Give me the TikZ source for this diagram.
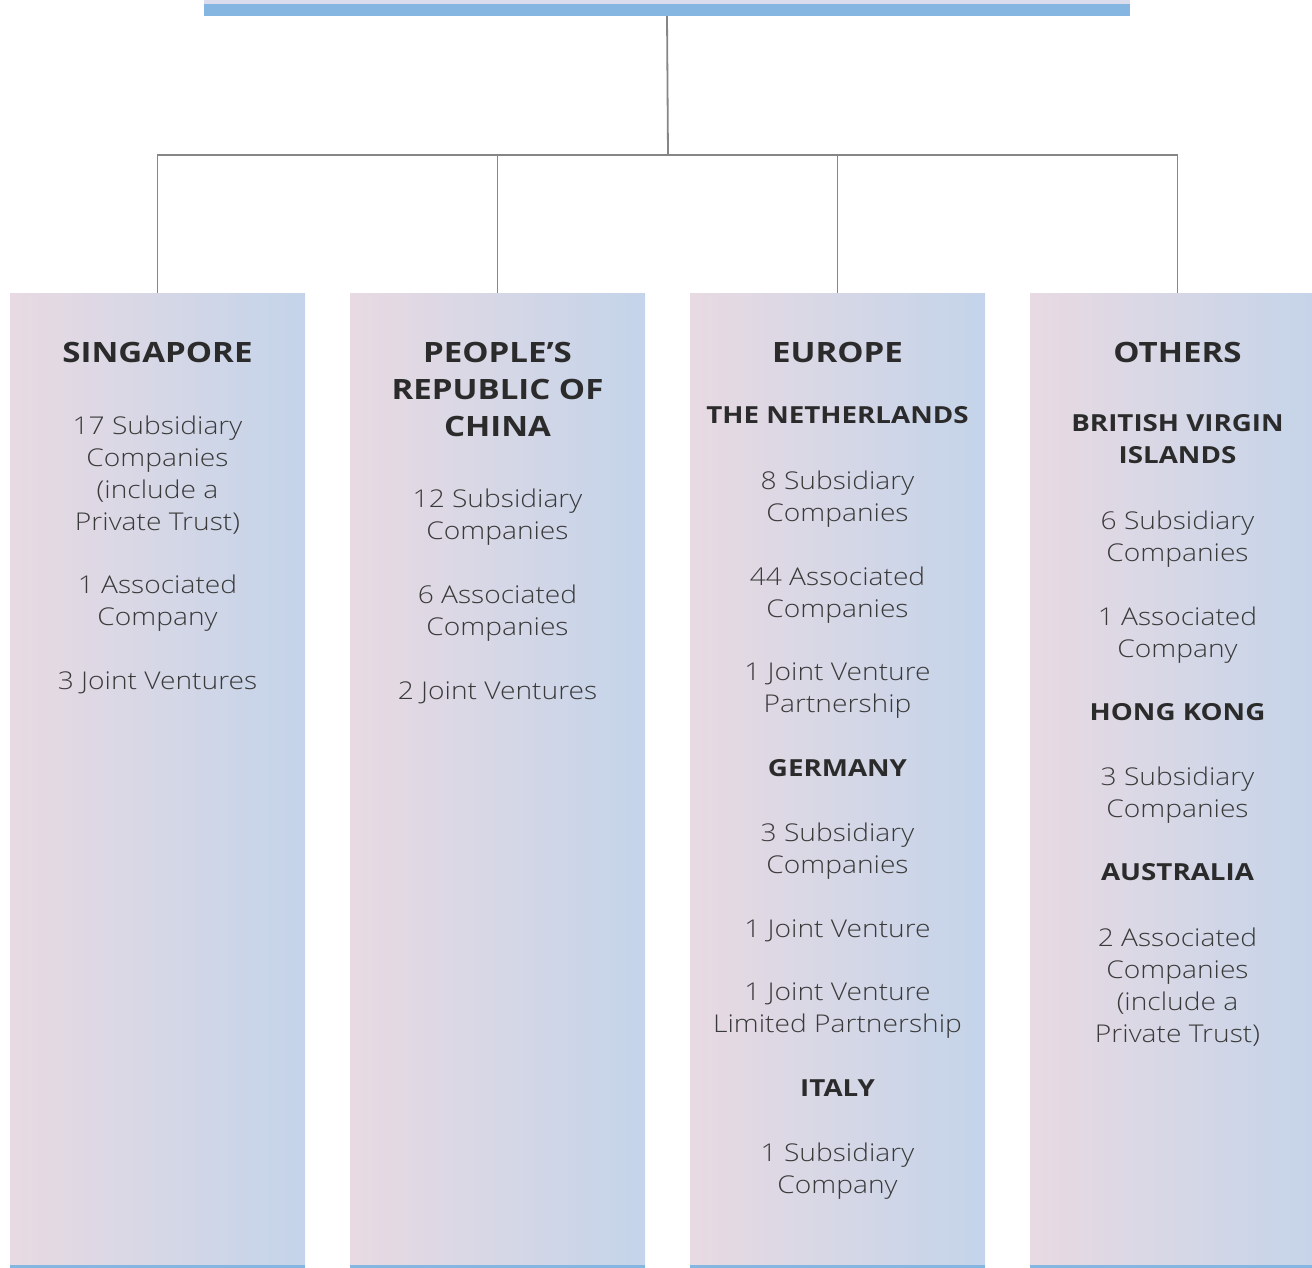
\documentclass[tikz,border=0pt]{standalone}
\usepackage{fontspec}
\setmainfont{Open Sans}[UprightFont=* Light, BoldFont=* Bold]
\definecolor{barblue}{HTML}{85B6E1}
\definecolor{barpale}{HTML}{D9DDEE}
\definecolor{linkgray}{HTML}{868686}
\definecolor{colpink}{HTML}{E8DAE2}
\definecolor{colblue}{HTML}{C4D4EA}
\definecolor{headtext}{HTML}{2B2B2B}
\definecolor{bodytext}{HTML}{3A3A3A}
\tikzset{
  region/.style={rectangle, inner sep=0pt, minimum width=295pt, minimum height=972pt,
    left color=colpink, right color=colblue, draw=none},
  link/.style={draw=linkgray, line width=1.8pt},
  foot/.style={draw=barblue, line width=3pt},
  headline/.style={inner sep=0pt, align=center, text=headtext,
    font={\bfseries\fontsize{28}{37}\selectfont\addfontfeature{FakeStretch=1.18}}},
  subhead/.style={inner sep=0pt, align=center, text=headtext,
    font={\bfseries\fontsize{23.5}{32}\selectfont\addfontfeature{FakeStretch=1.18}}},
  entry/.style={inner sep=0pt, align=center, text=bodytext, yshift=-3pt,
    font={\fontsize{24.5}{32}\selectfont\addfontfeature{FakeStretch=1.15}}},
}
\begin{document}
\begin{tikzpicture}[x=1pt,y=-1pt]
\useasboundingbox (0,0) rectangle (1312,1268);
% group bar
\fill[barpale] (204,0) rectangle (1130,4);
\node[rectangle, fill=barblue, inner sep=0pt, minimum width=926pt, minimum height=12pt] (group) at (667,10) {};
% regional columns
\node[region] (sg) at (157.5,779) {};
\node[region] (cn) at (497.5,779) {};
\node[region] (eu) at (837.5,779) {};
\node[region] (ot) at (1177.5,779) {};
\foreach \c in {sg,cn,eu,ot}{
  \draw[foot] ([yshift=-1.5pt]\c.south west) -- ([yshift=-1.5pt]\c.south east);
}
% tree connectors
\coordinate (bus) at (668,155);
\draw[link] (group.south) -- (bus);
\foreach \c in {sg,cn,eu,ot}{
  \draw[link] (\c.north) |- (bus);
}
% Singapore
\node[headline] (sgh) at (157.5,352) {SINGAPORE};
\node[entry] (sg1) at (157.5,472) {17 Subsidiary\\Companies\\(include a\\Private Trust)};
\node[entry] (sg2) at (157.5,600) {1 Associated\\Company};
\node[entry] (sg3) at (157.5,680) {3 Joint Ventures};
% People's Republic of China
\node[headline] (cnh) at (497.5,389) {PEOPLE’S\\REPUBLIC OF\\CHINA};
\node[entry] (cn1) at (497.5,514) {12 Subsidiary\\Companies};
\node[entry] (cn2) at (497.5,610) {6 Associated\\Companies};
\node[entry] (cn3) at (497.5,690) {2 Joint Ventures};
% Europe
\node[headline] (euh) at (837.5,352) {EUROPE};
\node[subhead] (nl) at (837.5,415) {THE NETHERLANDS};
\node[entry] (nl1) at (837.5,496) {8 Subsidiary\\Companies};
\node[entry] (nl2) at (837.5,592) {44 Associated\\Companies};
\node[entry] (nl3) at (837.5,688) {1 Joint Venture\\Partnership};
\node[subhead] (de) at (837.5,768) {GERMANY};
\node[entry] (de1) at (837.5,848) {3 Subsidiary\\Companies};
\node[entry] (de2) at (837.5,928) {1 Joint Venture};
\node[entry] (de3) at (837.5,1008) {1 Joint Venture\\Limited Partnership};
\node[subhead] (it) at (837.5,1088) {ITALY};
\node[entry] (it1) at (837.5,1168) {1 Subsidiary\\Company};
% Others
\node[headline] (oth) at (1177.5,352) {OTHERS};
\node[subhead] (bvi) at (1177.5,439) {BRITISH VIRGIN\\ISLANDS};
\node[entry] (bvi1) at (1177.5,536) {6 Subsidiary\\Companies};
\node[entry] (bvi2) at (1177.5,632) {1 Associated\\Company};
\node[subhead] (hk) at (1177.5,712) {HONG KONG};
\node[entry] (hk1) at (1177.5,792) {3 Subsidiary\\Companies};
\node[subhead] (au) at (1177.5,872) {AUSTRALIA};
\node[entry] (au1) at (1177.5,984) {2 Associated\\Companies\\(include a\\Private Trust)};
\end{tikzpicture}
\end{document}
